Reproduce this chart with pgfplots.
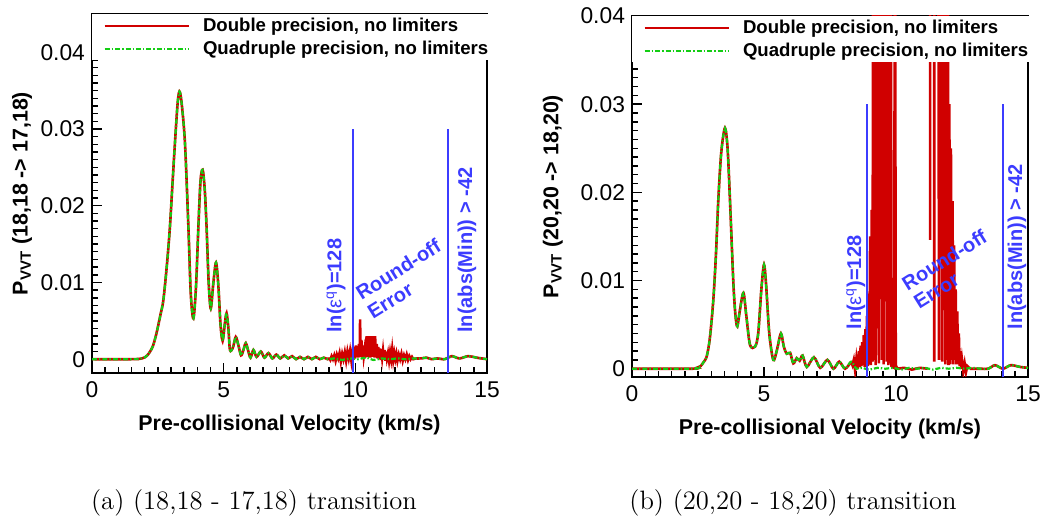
\documentclass[border=0pt]{standalone}
\usepackage{pgfplots}
\pgfplotsset{compat=1.18}
\usepackage{fontspec}
\newfontfamily\arial{Liberation Sans}
\definecolor{dred}{RGB}{208,0,0}
\definecolor{dgreen}{RGB}{20,205,20}
\definecolor{ablue}{RGB}{60,60,255}

\tikzset{ann/.style={text=ablue, font=\arial\bfseries\fontsize{10}{11}\selectfont, inner sep=0pt}}
\pgfplotsset{
 panel/.style={
  scale only axis, xmin=0, xmax=15,
  xtick={0,5,10,15}, minor x tick num=9,
  ytick={0,0.01,0.02,0.03,0.04}, yticklabels={0,0.01,0.02,0.03,0.04},
  scaled y ticks=false,
  minor y tick num=9,
  xtick pos=bottom, ytick pos=left, tick align=inside,
  major tick length=5pt, minor tick length=3pt,
  every tick/.style={black, line width=0.7pt},
  axis line style={line width=1pt},
  tick label style={font=\arial\fontsize{11.4}{13}\selectfont},
  /pgf/number format/assume math mode=true,
  xticklabel style={yshift=-1pt},
  label style={font=\arial\bfseries\fontsize{10.7}{12.5}\selectfont, inner sep=0pt},
  legend style={at={(axis description cs:0,1)}, anchor=north west, draw=none, fill=white,
    font=\arial\bfseries\fontsize{9.3}{11}\selectfont, row sep=0pt, column sep=3.5pt,
    inner xsep=0pt, inner ysep=0pt,
    nodes={inner xsep=3pt, inner ysep=0.75pt, text height=7.8pt, text depth=2.2pt}},
  legend image code/.code={\path (0pt,0pt); \draw[#1] (5.5pt,0pt) -- (47.5pt,0pt);},
  legend cell align=left,
 },
 dbl/.style={dred, line width=1.3pt},
 quad/.style={dgreen, line width=1.1pt, dash pattern=on 2.5pt off 1pt on 0.7pt off 1pt},
 vline/.style={ablue, line width=1pt, forget plot},
}

\begin{document}
\begin{tikzpicture}
\path[use as bounding box] (0,0) rectangle (521pt,259.5pt);

% ---------------- left panel ----------------
\begin{axis}[panel, at={(46pt,73pt)}, anchor=south west,
  width=197.5pt, height=179.5pt, ymin=-0.0018, ymax=0.045,
  xlabel={Pre-collisional Velocity (km/s)},
  ylabel={P\textsubscript{VVT} (18,18 -> 17,18)},
  xlabel style={at={(axis description cs:0.5,-0.117)}, anchor=north},
  ylabel style={at={(axis description cs:-0.177,0.5)}, anchor=center},
]
\addplot[dbl, smooth] coordinates {
(0,0) (1.5,0) (1.9,0.0001) (2.1,0.0005) (2.3,0.0016) (2.45,0.0034) (2.6,0.0058)
(2.71,0.0077) (2.85,0.0125) (2.96,0.0173) (3.05,0.0225) (3.15,0.0282) (3.25,0.0333)
(3.32,0.0349) (3.40,0.0335) (3.53,0.0282) (3.66,0.0173) (3.75,0.0086) (3.85,0.0053)
(3.95,0.0095) (4.04,0.0173) (4.12,0.0232) (4.20,0.0247) (4.28,0.0222) (4.35,0.0173)
(4.43,0.0100) (4.51,0.0066) (4.61,0.0100) (4.71,0.0126) (4.80,0.0095) (4.88,0.0045)
(4.96,0.0024) (5.04,0.0045) (5.11,0.0060) (5.18,0.0040) (5.24,0.0012) (5.35,0.0015)
(5.46,0.0029) (5.56,0.0018) (5.66,0.0005) (5.75,0.0012) (5.84,0.0021) (5.94,0.0010)
(6.02,0.0002) (6.13,0.0012) (6.25,0.0003) (6.41,0.0010) (6.55,0.0002) (6.70,0.0008)
(6.85,0.0001) (7.0,0.0006) (7.15,0.0001) (7.3,0.0005) (7.45,0.0001) (7.6,0.0004)
(7.75,0.0000) (7.9,0.0003) (8.05,0.0000) (8.2,0.0003) (8.35,0.0000) (8.5,0.0003)
(8.65,0.0000) (8.8,0.0002) (8.95,0.0000) (9.00,0.0002)
};
\addlegendentry{Double precision, no limiters}
\addplot[dbl, forget plot] coordinates {
(9.00,0.0002) (9.05,-0.0001) (9.10,0.0004) (9.15,0.0000) (9.20,0.0005) (9.25,-0.0002)
(9.30,0.0006) (9.35,0.0001) (9.40,0.0008) (9.45,-0.0003) (9.50,0.0007) (9.55,0.0000)
(9.60,0.0009) (9.65,-0.0002) (9.70,0.0010) (9.75,0.0001) (9.80,0.0011) (9.85,-0.0002)
(9.90,0.0012) (9.93,0.0002) (9.96,0.0016) (9.99,0.0001) (10.02,0.0018) (10.05,0.0003)
(10.08,0.0017) (10.11,0.0002) (10.14,0.0020) (10.17,0.0004) (10.18,0.0052) (10.20,0.0003)
(10.23,0.0025) (10.26,0.0002) (10.29,0.0018) (10.32,0.0004) (10.35,0.0012) (10.38,0.0002)
(10.41,0.0022) (10.43,0.0030) (10.45,0.0004) (10.47,0.0030) (10.49,0.0003) (10.51,0.0030)
(10.53,0.0005) (10.55,0.0030) (10.57,0.0002) (10.59,0.0030) (10.61,0.0004) (10.63,0.0030)
(10.65,0.0003) (10.67,0.0030) (10.69,0.0005) (10.71,0.0030) (10.73,0.0002) (10.75,0.0030)
(10.78,0.0004) (10.81,0.0020) (10.84,0.0001) (10.87,0.0016) (10.90,0.0002) (10.93,0.0014)
(10.96,-0.0001) (10.99,0.0013) (11.02,0.0002) (11.05,0.0011) (11.08,0.0000) (11.11,0.0012)
(11.14,-0.0002) (11.17,0.0010) (11.20,0.0001) (11.24,0.0008) (11.28,-0.0002) (11.32,0.0009)
(11.36,0.0000) (11.40,0.0013) (11.44,-0.0001) (11.48,0.0008) (11.52,0.0000) (11.56,0.0007)
(11.60,-0.0002) (11.65,0.0006) (11.70,0.0000) (11.75,0.0007) (11.80,-0.0002) (11.85,0.0005)
(11.90,0.0000) (11.95,0.0006) (12.00,-0.0001) (12.05,0.0004) (12.10,0.0000) (12.15,0.0003)
(12.20,0.0000) (12.3,0.0001)
};
\addplot[dbl, smooth, forget plot] coordinates {
(12.3,0.0001) (12.5,0.0001) (12.7,0.0002) (12.9,0.0000) (13.1,0.0001) (13.4,0.0000) (13.66,0.0004)
(13.95,0.0001) (14.29,0.0004) (14.6,0.0002) (15,0.0000)
};
\addplot[quad, smooth] coordinates {
(0,0) (1.5,0) (1.9,0.0001) (2.1,0.0005) (2.3,0.0016) (2.45,0.0034) (2.6,0.0058)
(2.71,0.0077) (2.85,0.0125) (2.96,0.0173) (3.05,0.0225) (3.15,0.0282) (3.25,0.0333)
(3.32,0.0349) (3.40,0.0335) (3.53,0.0282) (3.66,0.0173) (3.75,0.0086) (3.85,0.0053)
(3.95,0.0095) (4.04,0.0173) (4.12,0.0232) (4.20,0.0247) (4.28,0.0222) (4.35,0.0173)
(4.43,0.0100) (4.51,0.0066) (4.61,0.0100) (4.71,0.0126) (4.80,0.0095) (4.88,0.0045)
(4.96,0.0024) (5.04,0.0045) (5.11,0.0060) (5.18,0.0040) (5.24,0.0012) (5.35,0.0015)
(5.46,0.0029) (5.56,0.0018) (5.66,0.0005) (5.75,0.0012) (5.84,0.0021) (5.94,0.0010)
(6.02,0.0002) (6.13,0.0012) (6.25,0.0003) (6.41,0.0010) (6.55,0.0002) (6.70,0.0008)
(6.85,0.0001) (7.0,0.0006) (7.15,0.0001) (7.3,0.0005) (7.45,0.0001) (7.6,0.0004)
(7.75,0.0000) (7.9,0.0003) (8.05,0.0000) (8.2,0.0003) (8.35,0.0000) (8.5,0.0003)
(8.65,0.0000) (8.8,0.0002) (8.95,0.0000) (9.2,0.0001) (9.5,-0.0001) (9.8,0.0001)
(10.1,0.0000) (10.4,0.0002) (10.7,-0.0001) (11.0,0.0001) (11.3,0.0000) (11.6,0.0001)
(11.9,0.0000) (12.2,0.0001)
(12.5,0.0001) (12.7,0.0002) (12.9,0.0000) (13.1,0.0001) (13.4,0.0000) (13.66,0.0004)
(13.95,0.0001) (14.29,0.0004) (14.6,0.0002) (15,0.0000)
};
\addlegendentry{Quadruple precision, no limiters}
\addplot[vline] coordinates {(9.9,-0.0018) (9.9,0.03)};
\addplot[vline] coordinates {(13.5,-0.0018) (13.5,0.03)};
\node[ann, rotate=90, anchor=west] at (axis cs:9.27,0.0034) {ln({\mdseries ε\textsuperscript{q}})=128};
\node[ann, rotate=90, anchor=west] at (axis cs:14.24,0.0034) {ln(abs(Min)) > -42};
\node[ann, rotate=32, align=left, anchor=center] at (axis cs:11.85,0.0105) {Round-off\\Error};
\end{axis}

% ---------------- right panel ----------------
\begin{axis}[panel, at={(316pt,71pt)}, anchor=south west,
  width=198pt, height=180.5pt, ymin=-0.00094, ymax=0.04,
  xlabel={Pre-collisional Velocity (km/s)},
  ylabel={P\textsubscript{VVT} (20,20 -> 18,20)},
  xlabel style={at={(axis description cs:0.5,-0.114)}, anchor=north},
  ylabel style={at={(axis description cs:-0.2,0.5)}, anchor=center},
]
\addplot[dbl, smooth] coordinates {
(0,0) (2.3,0) (2.45,0.0001) (2.6,0.0003) (2.7,0.0007) (2.83,0.0014) (2.95,0.0035)
(3.08,0.0078) (3.18,0.0130) (3.27,0.0192) (3.38,0.0245) (3.52,0.0273) (3.62,0.0250)
(3.71,0.0192) (3.84,0.0097) (3.92,0.0060) (3.99,0.0048) (4.08,0.0065) (4.22,0.0086)
(4.33,0.0060) (4.47,0.0027) (4.66,0.0025) (4.78,0.0040) (4.90,0.0090) (5.0,0.0118)
(5.08,0.0095) (5.2,0.0040) (5.35,0.0010) (5.48,0.0020) (5.64,0.0040) (5.75,0.0025)
(5.86,0.0017) (5.99,0.0018) (6.11,0.0006) (6.24,0.0012) (6.35,0.0009) (6.46,0.0015)
(6.62,0.0002) (6.89,0.0013) (7.13,0.0001) (7.40,0.0010) (7.63,0.0000) (7.85,0.0008)
(8.07,0.0000) (8.30,0.0008)
};
\addlegendentry{Double precision, no limiters}
\addplot[dbl, unbounded coords=jump, forget plot] coordinates {
(8.30,0.0008)
(8.35,0.0004) (8.40,0.0010) (8.45,-0.0002) (8.50,0.0012) (8.55,0.0000) (8.60,0.0020)
(8.63,0.0002) (8.66,0.0026) (8.69,0.0003) (8.72,0.0030) (8.75,0.0005) (8.78,0.0038)
(8.81,0.0002) (8.84,0.0045) (8.87,0.0004) (8.90,0.0060) (8.93,0.0003) (8.96,0.0085)
(8.99,0.0005) (9.02,0.0150) (9.05,0.0004) (9.08,0.0180) (9.11,0.0008) (9.14,0.0600)
(9.17,0.0010) (9.20,0.0600) (9.23,0.0004) (9.26,0.0600) (9.29,0.0140) (9.32,0.0600)
(9.35,0.0006) (9.38,0.0600) (9.41,0.0150) (9.44,0.0600) (9.47,0.0010) (9.50,0.0600)
(9.53,0.0005) (9.56,0.0600) (9.59,0.0130) (9.62,0.0600) (9.65,0.0008) (9.68,0.0600)
(9.71,0.0004) (9.74,0.0600) (9.77,0.0006) (9.80,0.0600) (9.83,0.0003) (9.87,0.0002)
(9.93,0.0001) (9.96,0.0600) (9.99,0.0004) (10.05,0.0000) (10.3,0.0001) (10.6,-0.0001)
(10.9,0.0001) (11.2,0.0000) (11.26,nan) (11.29,0.0600) (11.29,0.0146) (11.35,nan)
(11.45,0.0600) (11.45,0.0008) (11.52,nan)
(11.60,0.0600) (11.63,0.0010) (11.66,0.0600) (11.69,0.0200) (11.72,0.0600) (11.75,0.0008)
(11.78,0.0600) (11.81,0.0150) (11.84,0.0600) (11.87,0.0005) (11.90,0.0600) (11.93,0.0010)
(11.96,0.0600) (11.99,0.0004) (12.02,0.0300) (12.05,0.0005) (12.08,0.0250) (12.11,0.0010)
(12.14,0.0190) (12.17,0.0005) (12.20,0.0140) (12.23,0.0010) (12.26,0.0090) (12.29,0.0005)
(12.32,0.0065) (12.35,0.0005) (12.38,0.0040) (12.41,0.0003) (12.44,0.0020) (12.47,0.0000)
(12.50,0.0010) (12.55,-0.0003) (12.60,0.0006) (12.65,-0.0004) (12.70,0.0003) (12.80,0.0000)
};
\addplot[dbl, smooth, forget plot] coordinates {
(12.80,0.0000) (13.2,0.0000) (13.5,0.0000) (13.75,0.0004) (14.05,0.0000) (14.35,0.0004) (14.7,0.0002) (15,0.0001)
};
\addplot[quad, smooth] coordinates {
(0,0) (2.3,0) (2.45,0.0001) (2.6,0.0003) (2.7,0.0007) (2.83,0.0014) (2.95,0.0035)
(3.08,0.0078) (3.18,0.0130) (3.27,0.0192) (3.38,0.0245) (3.52,0.0273) (3.62,0.0250)
(3.71,0.0192) (3.84,0.0097) (3.92,0.0060) (3.99,0.0048) (4.08,0.0065) (4.22,0.0086)
(4.33,0.0060) (4.47,0.0027) (4.66,0.0025) (4.78,0.0040) (4.90,0.0090) (5.0,0.0118)
(5.08,0.0095) (5.2,0.0040) (5.35,0.0010) (5.48,0.0020) (5.64,0.0040) (5.75,0.0025)
(5.86,0.0017) (5.99,0.0018) (6.11,0.0006) (6.24,0.0012) (6.35,0.0009) (6.46,0.0015)
(6.62,0.0002) (6.89,0.0013) (7.13,0.0001) (7.40,0.0010) (7.63,0.0000) (7.85,0.0008)
(8.07,0.0000) (8.30,0.0008) (8.5,0.0000) (8.7,0.0001) (9.0,-0.0001) (9.3,0.0001)
(9.6,0.0000) (9.9,0.0001) (10.2,-0.0001) (10.5,0.0001) (10.8,0.0000) (11.1,0.0001)
(11.4,-0.0001) (11.7,0.0001) (12.0,0.0000) (12.3,0.0001) (12.6,0.0000) (12.9,0.0001)
(13.2,0.0000) (13.5,0.0000) (13.75,0.0004) (14.05,0.0000) (14.35,0.0004) (14.7,0.0002) (15,0.0001)
};
\addlegendentry{Quadruple precision, no limiters}
\addplot[vline, line width=0.8pt] coordinates {(8.89,-0.00094) (8.89,0.03)};
\addplot[vline, line width=0.8pt] coordinates {(14.06,-0.00094) (14.06,0.03)};
\node[ann, rotate=90, anchor=west] at (axis cs:8.48,0.0044) {ln({\mdseries ε\textsuperscript{q}})=128};
\node[ann, rotate=90, anchor=west] at (axis cs:14.58,0.0044) {ln(abs(Min)) > -42};
\node[ann, rotate=32, align=left, anchor=center] at (axis cs:12.05,0.0113) {Round-off\\Error};
\end{axis}

\node[font=\fontsize{13.3}{16}\selectfont] at (127pt,8pt) {(a) (18,18 - 17,18) transition};
\node[font=\fontsize{13.3}{16}\selectfont] at (396.5pt,8pt) {(b) (20,20 - 18,20) transition};
\end{tikzpicture}
\end{document}
